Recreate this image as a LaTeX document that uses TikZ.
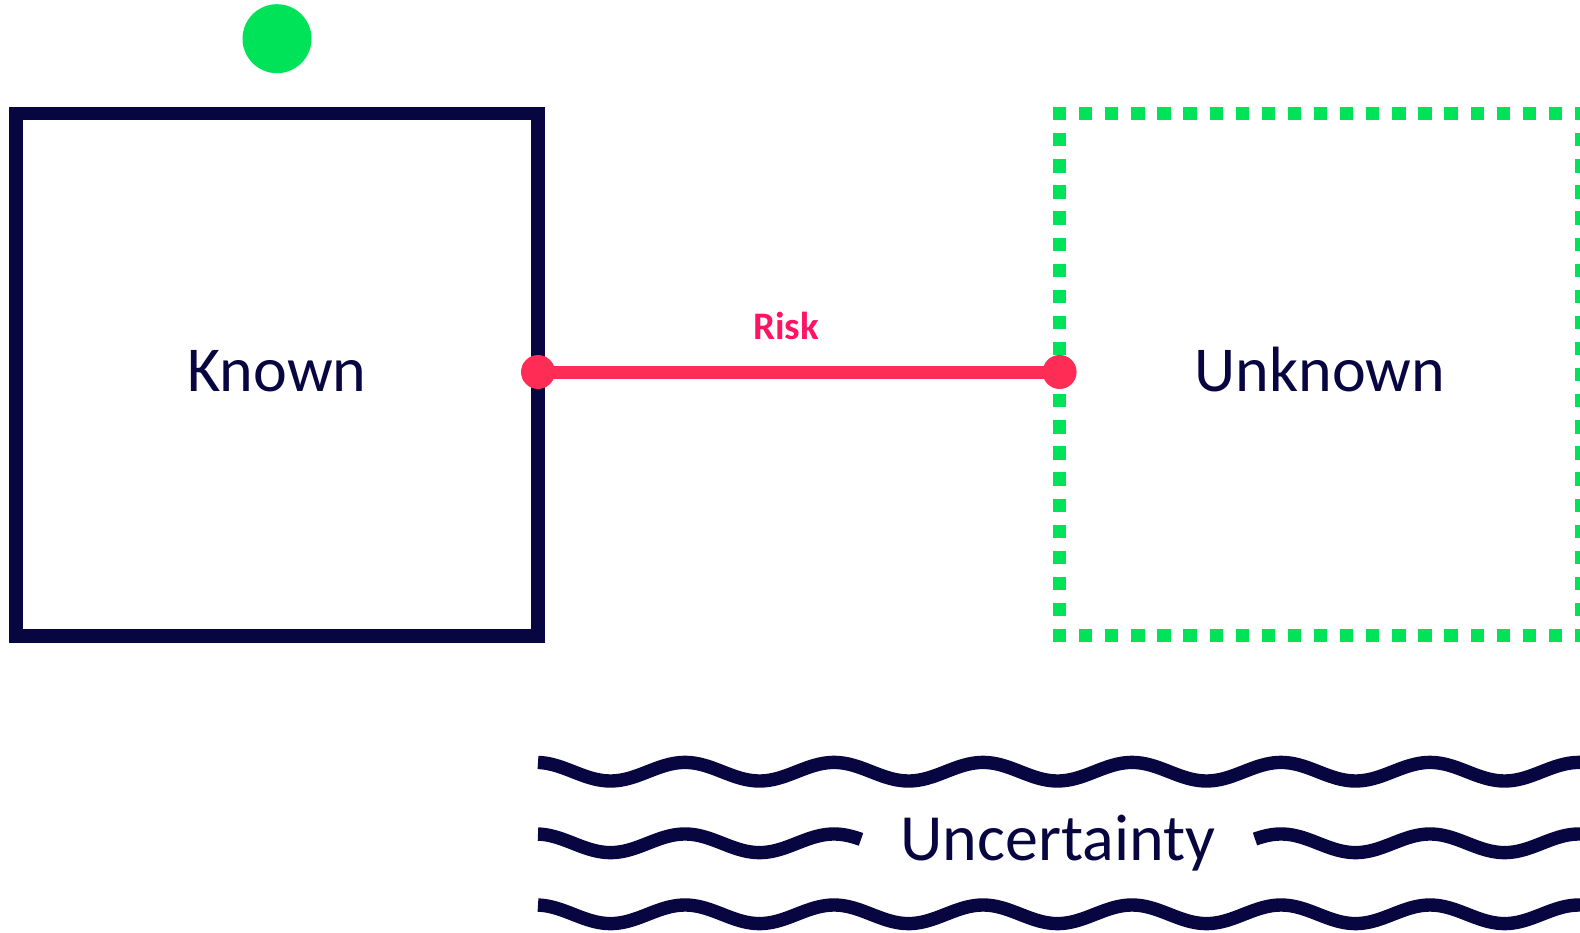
\documentclass[tikz,border=0pt]{standalone}
\usepackage{fontspec}
\setmainfont{Carlito}
\definecolor{navy}{RGB}{8,6,64}
\definecolor{signalgreen}{RGB}{0,227,88}
\definecolor{riskred}{RGB}{255,45,85}
\definecolor{risktext}{RGB}{255,20,100}
\tikzset{
  field/.style={minimum size=522,inner sep=0pt,outer sep=0pt},
  word/.style={text=navy,font=\fontsize{64}{70}\selectfont,anchor=base},
  wave/.style={navy,line width=13.4pt},
  riskdot/.style={circle,fill=riskred,inner sep=0pt,minimum size=34},
}
\begin{document}
\begin{tikzpicture}[x=1pt,y=-1pt]
  \useasboundingbox (0,0) rectangle (1580,933);
  \clip (0,0) rectangle (1580,933);
  % the two fields
  \node[field,draw=navy,line width=13.4pt] (known) at (277,374.8) {};
  \node[field,draw=signalgreen,line width=13.3pt,line cap=rect,dash pattern=on 0.01pt off 26.09pt] (unknown) at (1320.6,374.7) {};
  \node[word] (knowntext) at (277,391) {Known};
  \node[word] (unknowntext) at (1320,391) {Unknown};
  \node[circle,fill=signalgreen,minimum size=69,inner sep=0pt] (marker) at (277,38.7) {};
  % risk between them
  \node[riskdot] (riskA) at (known.east |- 0,372) {};
  \node[riskdot] (riskB) at (unknown.west |- 0,372) {};
  \draw[riskred,line width=13pt] (riskA.center) -- (riskB.center);
  \node[text=risktext,font=\bfseries\fontsize{39}{40}\selectfont,anchor=base] (risk) at (786,340) {Risk};
  % uncertainty waves
  \foreach \y/\a/\b in {771.7/538/1600, 843.3/538/861, 843.3/1255/1600, 914.3/538/1600}
    \draw[wave] plot[domain=\a:\b,samples=300] (\x,{\y-9.3*cos(2.416*(\x-536))});
  \node[word,font=\fontsize{66}{70}\selectfont] (uncertainty) at (1058,860) {Uncertainty};
\end{tikzpicture}
\end{document}
